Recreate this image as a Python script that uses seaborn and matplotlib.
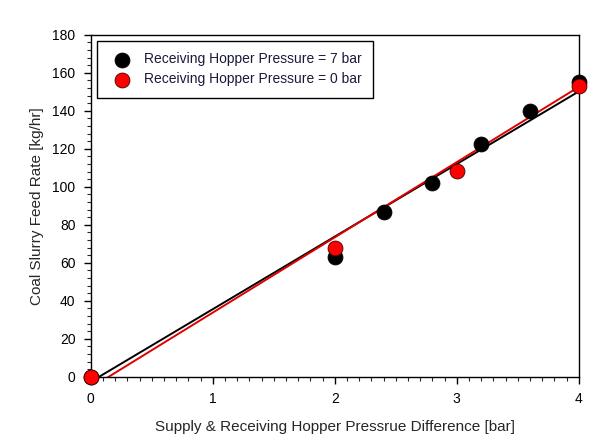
import matplotlib
matplotlib.use("Agg")
import matplotlib.pyplot as plt
import seaborn as sns
import numpy as np
import pandas as pd
from matplotlib.ticker import MultipleLocator

# data
x_7bar = [0.0, 2.0, 2.4, 2.8, 3.2, 3.6, 4.0]
y_7bar = [0.0, 63, 87, 102, 122.5, 140, 155]
x_0bar = [0.0, 2.0, 3.0, 4.0]
y_0bar = [0.0, 68, 108.5, 153]
# fitted lines (slope, intercept)
fit_7bar = (38.2, -2.6)
fit_0bar = (39.6, -5.8)
fit_x = [0.0, 4.0]

labels = ["Receiving Hopper Pressure = 7 bar", "Receiving Hopper Pressure = 0 bar"]

sns.set_style("ticks")
plt.rcParams['font.family'] = ['Liberation Sans', 'DejaVu Sans']

fig = plt.figure(figsize=(6.01, 4.47), dpi=100)
ax = fig.add_axes([0.151, 0.157, 0.812, 0.765])

for (m, b), col in [(fit_7bar, "black"), (fit_0bar, "#e00000")]:
    xs = np.array(fit_x)
    sns.lineplot(x=xs, y=m * xs + b, color=col, lw=1.4, ax=ax, zorder=2)

sns.scatterplot(x=x_7bar, y=y_7bar, color="black", edgecolor="black", s=115,
                linewidth=0.6, ax=ax, zorder=3, label=labels[0], clip_on=False)
sns.scatterplot(x=x_0bar, y=y_0bar, color="#ff0000", edgecolor="#400000", s=115,
                linewidth=0.6, ax=ax, zorder=4, label=labels[1], clip_on=False)

ax.set_xlim(0, 4)
ax.set_ylim(0, 180)
ax.set_xticks([0, 1, 2, 3, 4])
ax.set_yticks(np.arange(0, 181, 20))
ax.xaxis.set_minor_locator(MultipleLocator(0.1))
ax.yaxis.set_minor_locator(MultipleLocator(4))
ax.tick_params(axis='both', which='major', length=5, width=1, labelsize=10,
               colors='black', pad=6)
ax.tick_params(axis='both', which='minor', length=3, width=0.8)
for sp in ax.spines.values():
    sp.set_linewidth(1.0)
    sp.set_color("black")
    sp.set_visible(True)

ax.set_xlabel("Supply & Receiving Hopper Pressrue Difference [bar]", fontsize=11, labelpad=10)
ax.set_ylabel("Coal Slurry Feed Rate [kg/hr]", fontsize=11, labelpad=6)

leg = ax.legend(loc="upper left", bbox_to_anchor=(0.0, 1.0), fontsize=10,
                frameon=True, fancybox=False, edgecolor="black", framealpha=1,
                borderpad=0.8, handletextpad=0.6, labelspacing=0.45, markerscale=1.0,
                borderaxespad=0.45)
leg.get_frame().set_linewidth(1.0)
for t in leg.get_texts():
    t.set_color("#1a1a3a")

fig.savefig("out.png", dpi=100)
